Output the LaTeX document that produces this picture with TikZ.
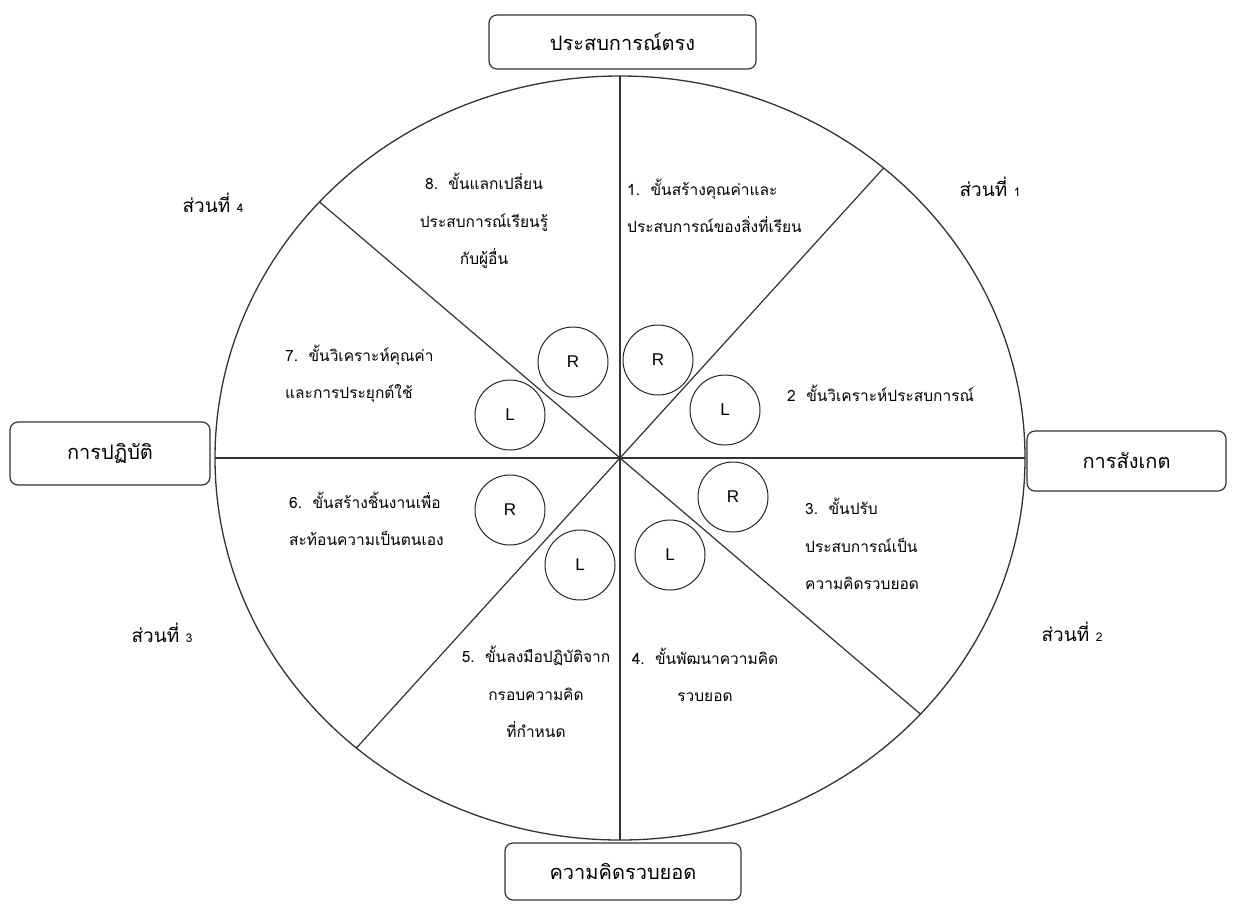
\documentclass[tikz,border=0pt]{standalone}
\usepackage{fontspec}
\newfontfamily\thaifont[Script=Thai]{Loma}
\newfontfamily\letterfont{Liberation Sans}
\newcommand{\smalldigit}[1]{{\fontsize{12}{14}\selectfont #1}}
\begin{document}
\begin{tikzpicture}[x=1pt,y=-1pt,
  rim/.style={draw=black!80, line width=1.3pt},
  divider/.style={draw=black!80, line width=1.2pt},
  headbox/.style={draw=black!80, line width=1.2pt, rounded corners=8pt, fill=white,
    inner sep=0pt, font=\thaifont\fontsize{20}{24}\selectfont},
  hemi/.style={circle, draw=black!85, line width=1pt, minimum size=70pt, inner sep=0pt,
    font=\letterfont\fontsize{17}{20}\selectfont},
  parttext/.style={inner sep=0pt, font=\thaifont\fontsize{19}{22}\selectfont},
  steptext/.style={inner sep=0pt, font=\thaifont\fontsize{15.5}{37.5}\selectfont}
]
\useasboundingbox (0,0) rectangle (1233,905);
\fill[white] (0,0) rectangle (1233,905);

% outer ring and its eight sectors
\coordinate (o) at (620,458);
\draw[rim] (o) ellipse [x radius=405, y radius=382];
\coordinate (n) at (620,76);
\coordinate (s) at (620,840);
\coordinate (w) at (215,458);
\coordinate (e) at (1025,458);
\coordinate (ne) at (883.6,168);
\coordinate (sw) at (356.4,748);
\coordinate (nw) at (319.5,201.9);
\coordinate (se) at (920.5,714.1);
\draw[divider] (n) -- (s);
\draw[divider] (w) -- (e);
\draw[divider] (ne) -- (sw);
\draw[divider] (nw) -- (se);

% four poles
\node[headbox, minimum width=267pt, minimum height=54pt] (top) at (622.5,42) {ประสบการณ์ตรง};
\node[headbox, minimum width=200pt, minimum height=63pt] (left) at (110,453.5) {การปฏิบัติ};
\node[headbox, minimum width=199pt, minimum height=60pt] (right) at (1126.5,461) {การสังเกต};
\node[headbox, minimum width=236pt, minimum height=57pt] (bottom) at (623,871.5) {ความคิดรวบยอด};

% quadrant names
\node[parttext] (p1) at (990,187) {ส่วนที่ \smalldigit{1}};
\node[parttext] (p2) at (1072,632) {ส่วนที่ \smalldigit{2}};
\node[parttext] (p3) at (162,633) {ส่วนที่ \smalldigit{3}};
\node[parttext] (p4) at (213,203) {ส่วนที่ \smalldigit{4}};

% right/left brain markers
\node[hemi] (r1) at (658,360) {R};
\node[hemi] (l1) at (725,410) {L};
\node[hemi] (r4) at (573,362) {R};
\node[hemi] (l4) at (510,415) {L};
\node[hemi] (r2) at (733,497) {R};
\node[hemi] (l2) at (670,555) {L};
\node[hemi] (r3) at (510,510) {R};
\node[hemi] (l3) at (580,565) {L};

% the eight steps
\node[steptext, anchor=west, align=left] (st1) at (627,206) {1.\ \ ขั้นสร้างคุณค่าและ\\ประสบการณ์ของสิ่งที่เรียน};
\node[steptext, anchor=west, align=left] (st2) at (787,393) {2\ \ ขั้นวิเคราะห์ประสบการณ์};
\node[steptext, anchor=west, align=left] (st3) at (805,544) {3.\ \ ขั้นปรับ\\ประสบการณ์เป็น\\ความคิดรวบยอด};
\node[steptext, align=center] (st4) at (705,675) {4.\ \ ขั้นพัฒนาความคิด\\รวบยอด};
\node[steptext, align=center] (st5) at (536,692) {5.\ \ ขั้นลงมือปฏิบัติจาก\\กรอบความคิด\\ที่กำหนด};
\node[steptext, anchor=west, align=left] (st6) at (289,519) {6.\ \ ขั้นสร้างชิ้นงานเพื่อ\\สะท้อนความเป็นตนเอง};
\node[steptext, anchor=west, align=left] (st7) at (285,374) {7.\ \ ขั้นวิเคราะห์คุณค่า\\และการประยุกต์ใช้};
\node[steptext, align=center] (st8) at (484,221) {8.\ \ ขั้นแลกเปลี่ยน\\ประสบการณ์เรียนรู้\\กับผู้อื่น};
\end{tikzpicture}
\end{document}
